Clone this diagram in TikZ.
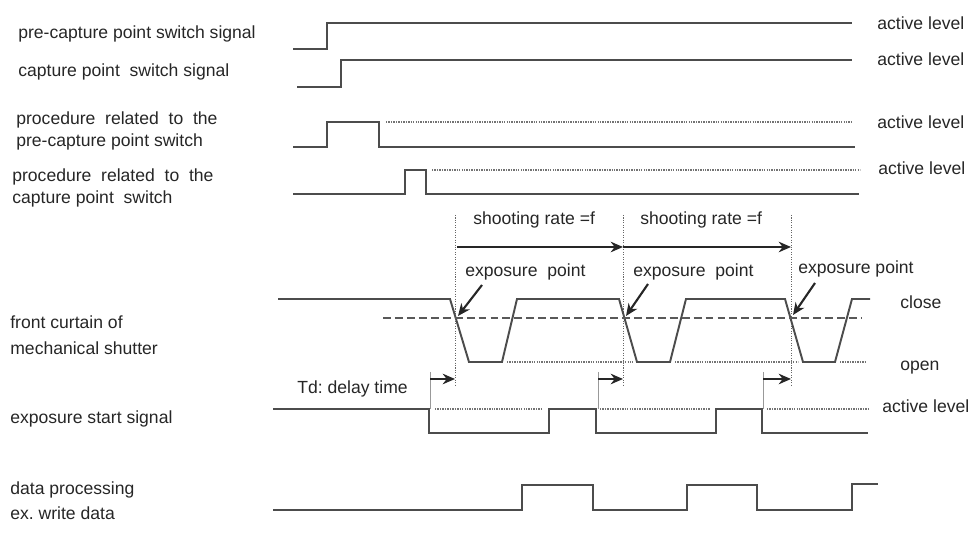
\documentclass[tikz,border=0pt]{standalone}
\usepackage{fontspec}
\setmainfont{Liberation Sans}
\frenchspacing
\usetikzlibrary{arrows.meta, positioning}

\begin{document}
\begin{tikzpicture}[x=0.02cm, y=-0.02cm, >=Stealth,
  wave/.style={line width=1.2pt, draw=black!70},
  level/.style={line width=0.6pt, draw=black!55, dash pattern=on 0.8pt off 0.6pt},
  guide/.style={line width=0.5pt, draw=black!60, dash pattern=on 0.6pt off 0.8pt},
  tick/.style={line width=0.5pt, draw=black!40},
  txt/.style={inner sep=0pt, anchor=west, text height=7.2pt, text depth=0pt, text=black!85, font=\fontsize{10}{12}\selectfont},
  rate/.style={line width=1.4pt, draw=black!85, -{Stealth[length=7pt, width=6pt]}},
  pointer/.style={line width=1.2pt, draw=black!85, -{Stealth[length=7pt, width=6pt]}}]
\useasboundingbox (0,0) rectangle (971,540);

% signal names
\node[txt] (precap) at (18,32) {pre-capture point switch signal};
\node[txt] (cap) at (18,70) {capture point\ \ switch signal};
\node[txt] (procpre) at (16,118) {procedure\ \ related\ \ to\ \ the};
\node[txt] (procpreb) at (16,140) {pre-capture point switch};
\node[txt] (proccap) at (12,175) {procedure\ \ related\ \ to\ \ the};
\node[txt] (proccapb) at (12,197) {capture point\ \ switch};
\node[txt] (curtain) at (10,322) {front curtain of};
\node[txt] (curtainb) at (10,348) {mechanical shutter};
\node[txt] (expstart) at (10,417) {exposure start signal};
\node[txt] (dataproc) at (10,488) {data processing};
\node[txt] (dataprocb) at (10,513) {ex. write data};

% levels on the right
\node[txt] (act1) at (877,23) {active level};
\node[txt] (act2) at (877,59) {active level};
\node[txt] (act3) at (877,122) {active level};
\node[txt] (act4) at (878,168) {active level};
\node[txt] (close) at (900,302) {close};
\node[txt] (open) at (900,364) {open};
\node[txt] (act5) at (882,406) {active level};

% switch signals and procedures
\draw[wave] (293,49) -| (327,23) -- (852,23);
\draw[wave] (297,87) -| (341,60) -- (852,60);
\draw[wave] (293,147) -| (327,122) -| (379,147) -- (855,147);
\draw[level] (386,122) -- (852,122);
\draw[wave] (293,194) -| (405,170) -| (426,194) -- (859,194);
\draw[level] (432,170) -- (860,170);

% exposure instants
\draw[guide] (455,215) -- (455,386);
\draw[guide] (623,215) -- (623,386);
\draw[guide] (791,215) -- (791,386);

\node[txt] (rate1) at (473,218) {shooting rate =f};
\node[txt] (rate2) at (640,218) {shooting rate =f};
\coordinate (r0) at (457,247);
\coordinate (r1) at (623,247);
\coordinate (r2) at (791,247);
\draw[rate] (r0) -- (r1);
\draw[rate] (r1) -- (r2);

\node[txt] (ep1) at (465,270) {exposure\ \ point};
\node[txt] (ep2) at (633,270) {exposure\ \ point};
\node[txt] (ep3) at (798,267) {exposure point};
\coordinate (ep1tail) at (482,285);
\coordinate (ep2tail) at (648,284);
\coordinate (ep3tail) at (815,283);
\coordinate (x1) at (458,316);
\coordinate (x2) at (626,316);
\coordinate (x3) at (793,315);
\draw[pointer] (ep1tail) -- (x1);
\draw[pointer] (ep2tail) -- (x2);
\draw[pointer] (ep3tail) -- (x3);

% front curtain of mechanical shutter
\draw[wave, line width=1.1pt] (278,299) -- (450,299) -- (469,362) -- (502,362) -- (517,299)
  -- (619,299) -- (637,362) -- (670,362) -- (686,299) -- (785,299) -- (803,362)
  -- (835,362) -- (852,299) -- (870,299);
\draw[line width=0.9pt, draw=black!65, dash pattern=on 4.5pt off 2.3pt] (383,318) -- (862,318);
\draw[level] (507,362) -- (633,362);
\draw[level] (675,362) -- (798,362);
\draw[level] (840,362) -- (867,362);

% delay time
\node[txt] (td) at (297,387) {Td: delay time};
\draw[tick] (430,372) -- (430,409);
\draw[tick] (598,372) -- (598,409);
\draw[tick] (763,372) -- (763,409);
\coordinate (d1) at (430,379);
\coordinate (d2) at (598,379);
\coordinate (d3) at (763,379);
\draw[pointer] (d1) -- (455,379);
\draw[pointer] (d2) -- (623,379);
\draw[pointer] (d3) -- (791,379);

% exposure start signal
\draw[wave] (273,409) -| (429,433) -| (549,409) -| (596,433) -| (716,409) -| (762,433) -- (868,433);
\draw[level] (435,409) -- (543,409);
\draw[level] (600,409) -- (710,409);
\draw[level] (767,409) -- (870,409);

% data processing
\draw[wave] (273,510) -| (522,485) -| (593,510) -| (687,485) -| (757,510) -| (852,484) -- (878,484);
\end{tikzpicture}
\end{document}
